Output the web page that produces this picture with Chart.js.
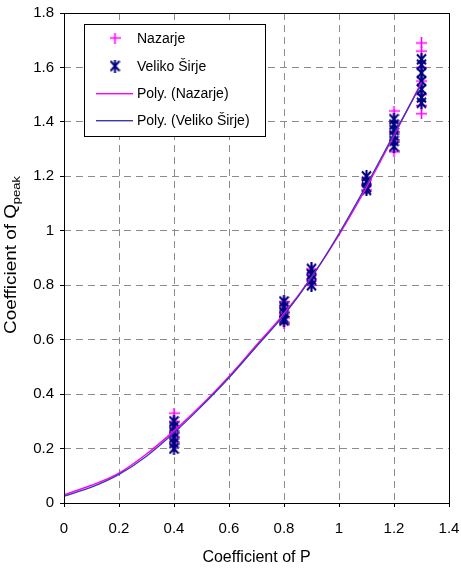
<!DOCTYPE html>
<html>
<head>
<meta charset="utf-8">
<script src="https://cdn.jsdelivr.net/npm/chart.js@4/dist/chart.umd.min.js"></script>
<style>
  html, body { margin: 0; padding: 0; background: #fff; }
  #wrap { width: 461px; height: 569px; position: relative; }
</style>
</head>
<body>
<div id="wrap"><canvas id="chart"></canvas></div>
<script>
// ── data ──
const NAZ_P = [0.4, 0.4, 0.4, 0.4, 0.4, 0.4,
               0.8, 0.8, 0.8, 0.8, 0.8,
               0.9, 0.9, 0.9, 0.9,
               1.1, 1.1, 1.1,
               1.2, 1.2, 1.2, 1.2, 1.2,
               1.3, 1.3, 1.3, 1.3, 1.3, 1.3, 1.3];
const NAZ_Q = [0.33, 0.30, 0.28, 0.26, 0.24, 0.22,
               0.74, 0.72, 0.70, 0.68, 0.66,
               0.86, 0.84, 0.82, 0.80,
               1.19, 1.17, 1.15,
               1.44, 1.40, 1.36, 1.33, 1.29,
               1.69, 1.66, 1.60, 1.55, 1.50, 1.46, 1.43];

const VEL_P = [0.4, 0.4, 0.4, 0.4, 0.4, 0.4,
               0.8, 0.8, 0.8, 0.8, 0.8,
               0.9, 0.9, 0.9, 0.9,
               1.1, 1.1, 1.1, 1.1,
               1.2, 1.2, 1.2, 1.2, 1.2, 1.2,
               1.3, 1.3, 1.3, 1.3, 1.3, 1.3, 1.3];
const VEL_Q = [0.30, 0.28, 0.26, 0.24, 0.22, 0.20,
               0.74, 0.72, 0.70, 0.68, 0.67,
               0.86, 0.84, 0.82, 0.80,
               1.20, 1.18, 1.16, 1.15,
               1.41, 1.39, 1.37, 1.35, 1.33, 1.31,
               1.63, 1.61, 1.58, 1.55, 1.52, 1.49, 1.47];

const POLY_P   = [0, 0.1, 0.2, 0.3, 0.4, 0.5, 0.6, 0.7, 0.8, 0.9, 1.0, 1.1, 1.2, 1.3];
const POLY_NAZ = [0.030, 0.065, 0.110, 0.180, 0.265, 0.360, 0.465, 0.580, 0.695, 0.830, 0.985, 1.160, 1.350, 1.545];
const POLY_VEL = [0.025, 0.058, 0.105, 0.172, 0.258, 0.355, 0.460, 0.575, 0.690, 0.828, 0.990, 1.168, 1.355, 1.540];

const X_TICKS = [0, 0.2, 0.4, 0.6, 0.8, 1, 1.2, 1.4];
const Y_TICKS = [0, 0.2, 0.4, 0.6, 0.8, 1, 1.2, 1.4, 1.6, 1.8];

const LABELS = ['Nazarje', 'Veliko Širje', 'Poly. (Nazarje)', 'Poly. (Veliko Širje)'];

const MAGENTA = '#ff00ff';
const NAVY    = '#000080';
const POLY_BLUE = '#3a3aa8';
const GRID_COLOR = '#8c8c8c';
const FONT = 'Liberation Sans, Arial, sans-serif';

// ── marker images ──
function makePlus(color) {
  const c = document.createElement('canvas');
  c.width = 11; c.height = 11;
  const g = c.getContext('2d');
  g.strokeStyle = color; g.lineWidth = 1.6;
  g.beginPath();
  g.moveTo(0, 5.5); g.lineTo(11, 5.5);
  g.moveTo(5.5, 0); g.lineTo(5.5, 11);
  g.stroke();
  return c;
}

function makeAsterisk(color) {
  const c = document.createElement('canvas');
  c.width = 11; c.height = 13;
  const g = c.getContext('2d');
  g.strokeStyle = color; g.lineWidth = 2;
  g.beginPath();
  g.moveTo(1, 1.5); g.lineTo(10, 11.5);
  g.moveTo(10, 1.5); g.lineTo(1, 11.5);
  g.moveTo(5.5, 0); g.lineTo(5.5, 13);
  g.stroke();
  return c;
}

const PLUS_IMG = makePlus(MAGENTA);
const STAR_IMG = makeAsterisk(NAVY);

const pts = (xs, ys) => xs.map((x, i) => ({ x: x, y: ys[i] }));
const fmt = v => String(Math.round(v * 10) / 10);

// ── frame, legend box and axis titles ──
const decorPlugin = {
  id: 'decor',
  afterDraw(chart) {
    const { ctx, chartArea: a } = chart;
    ctx.save();
    // plot frame
    ctx.strokeStyle = '#000';
    ctx.lineWidth = 1;
    ctx.strokeRect(Math.round(a.left) + 0.5, Math.round(a.top) + 0.5,
                   Math.round(a.right - a.left), Math.round(a.bottom - a.top));

    // legend
    ctx.fillStyle = '#fff';
    ctx.fillRect(84.5, 24.5, 181, 112);
    ctx.strokeRect(84.5, 24.5, 181, 112);
    const rows = [38, 66, 93, 120];
    ctx.drawImage(PLUS_IMG, 115 - 5.5, rows[0] - 5.5);
    ctx.drawImage(STAR_IMG, 115 - 5.5, rows[1] - 6.5);
    ctx.fillStyle = MAGENTA;
    ctx.fillRect(96, rows[2], 37, 1.4);
    ctx.fillStyle = POLY_BLUE;
    ctx.fillRect(96, rows[3], 37, 1.4);
    ctx.font = '14px ' + FONT;
    ctx.fillStyle = '#000';
    ctx.textBaseline = 'middle';
    LABELS.forEach((t, i) => ctx.fillText(t, 137, rows[i] + 1));

    // x title
    ctx.font = '16px ' + FONT;
    ctx.textAlign = 'center';
    ctx.textBaseline = 'middle';
    ctx.fillText('Coefficient of P', (a.left + a.right) / 2, 558);

    // y title with subscript
    ctx.translate(16, 255);
    ctx.rotate(-Math.PI / 2);
    ctx.scale(1.18, 1);
    ctx.textAlign = 'left';
    ctx.textBaseline = 'alphabetic';
    ctx.font = '16px ' + FONT;
    const main = 'Coefficient of Q';
    const w1 = ctx.measureText(main).width;
    ctx.font = '11px ' + FONT;
    const w2 = ctx.measureText('peak').width;
    const start = -(w1 + w2) / 2;
    ctx.font = '16px ' + FONT;
    ctx.fillText(main, start, 0);
    ctx.font = '11px ' + FONT;
    ctx.fillText('peak', start + w1, 4);
    ctx.restore();
  }
};

new Chart(document.getElementById('chart'), {
  type: 'scatter',
  data: {
    datasets: [
      {
        label: LABELS[3],
        data: pts(POLY_P, POLY_VEL),
        showLine: true,
        borderColor: POLY_BLUE,
        borderWidth: 1.3,
        pointRadius: 0,
        cubicInterpolationMode: 'monotone',
        order: 0,
      },
      {
        label: LABELS[2],
        data: pts(POLY_P, POLY_NAZ),
        showLine: true,
        borderColor: MAGENTA,
        borderWidth: 1.5,
        pointRadius: 0,
        cubicInterpolationMode: 'monotone',
        order: 1,
      },
      {
        label: LABELS[1],
        data: pts(VEL_P, VEL_Q),
        pointStyle: STAR_IMG,
        pointRadius: 6,
        order: 2,
      },
      {
        label: LABELS[0],
        data: pts(NAZ_P, NAZ_Q),
        pointStyle: PLUS_IMG,
        pointRadius: 6,
        order: 3,
      },
    ],
  },
  options: {
    responsive: true,
    maintainAspectRatio: false,
    animation: false,
    layout: { padding: { top: 13, right: 12, left: 0, bottom: 0 } },
    plugins: {
      legend: { display: false },
      tooltip: { enabled: false },
    },
    scales: {
      x: {
        type: 'linear',
        min: 0, max: 1.4,
        afterBuildTicks: s => { s.ticks = X_TICKS.map(v => ({ value: v })); },
        afterFit: s => { s.height = 66; s.paddingLeft = 0; s.paddingRight = 0; },
        grid: { color: GRID_COLOR, tickColor: '#000', tickLength: 4, lineWidth: 1 },
        border: { display: false, dash: [7, 5] },
        ticks: {
          color: '#000',
          font: { family: FONT, size: 15 },
          padding: 13,
          maxRotation: 0,
          callback: fmt,
        },
      },
      y: {
        type: 'linear',
        min: 0, max: 1.8,
        afterBuildTicks: s => { s.ticks = Y_TICKS.map(v => ({ value: v })); },
        afterFit: s => { s.width = 64; s.paddingTop = 0; s.paddingBottom = 0; },
        grid: { color: GRID_COLOR, tickColor: '#000', tickLength: 4, lineWidth: 1 },
        border: { display: false, dash: [7, 5] },
        ticks: {
          color: '#000',
          font: { family: FONT, size: 15 },
          padding: 6,
          callback: fmt,
        },
      },
    },
  },
  plugins: [decorPlugin],
});
</script>
</body>
</html>
